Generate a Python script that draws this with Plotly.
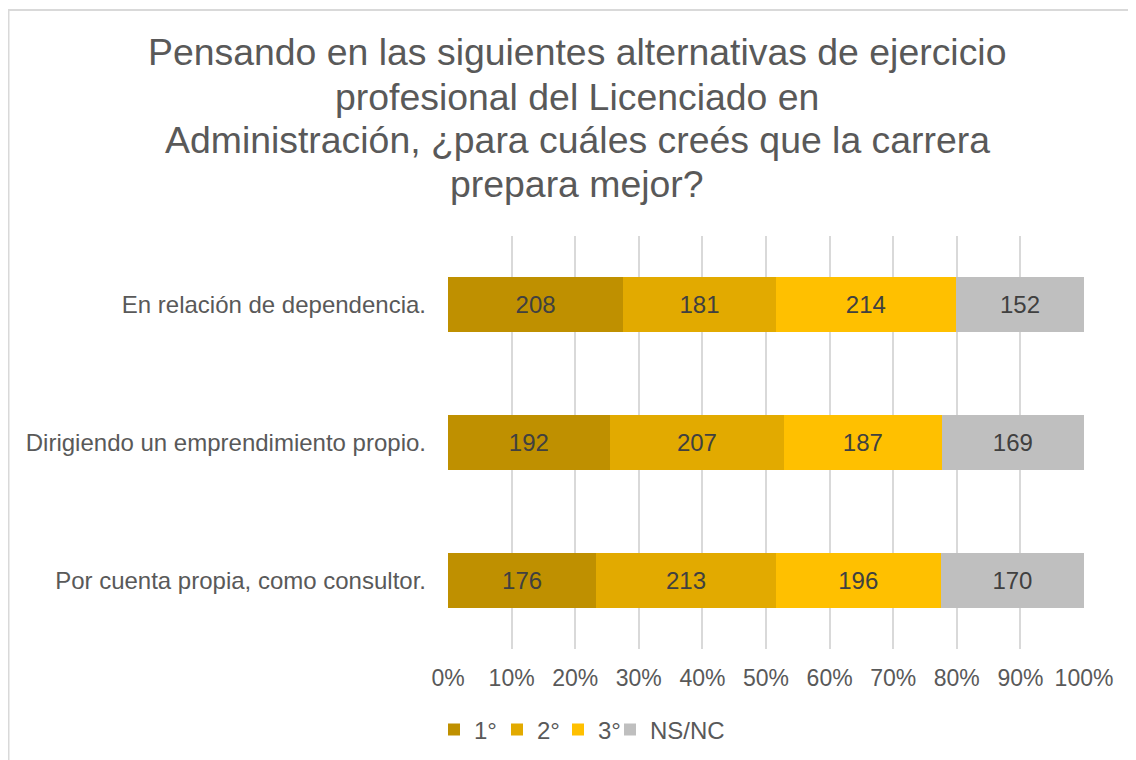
import plotly.graph_objects as go

categories = ["En relación de dependencia.",
              "Dirigiendo un emprendimiento propio.",
              "Por cuenta propia, como consultor."]
series_names = ["1°", "2°", "3°", "NS/NC"]
values_1 = [208, 192, 176]
values_2 = [181, 207, 213]
values_3 = [214, 187, 196]
values_ns = [152, 169, 170]
colors = ["#BF9000", "#E2AA00", "#FFC000", "#BFBFBF"]
x_ticks = [0, 10, 20, 30, 40, 50, 60, 70, 80, 90, 100]
x_tick_labels = [f"{v}%" for v in x_ticks]

title_lines = ["Pensando en las siguientes alternativas de ejercicio",
               "profesional del Licenciado en",
               "Administración, ¿para cuáles creés que la carrera",
               "prepara mejor?"]

FONT = "Liberation Sans, Arial"
# figure is placed at (8, 8) in the page
W, H = 1128, 752
L, R, T, B = 440, 52, 228, 111

legend_ids = ["legend", "legend2", "legend3", "legend4"]
# left edge of each legend box (figure px)
legend_left = [426, 489, 550, 602]

fig = go.Figure()
for name, vals, col, lid in zip(series_names, [values_1, values_2, values_3, values_ns],
                                colors, legend_ids):
    fig.add_trace(go.Bar(
        y=categories, x=vals, name=name, orientation="h",
        marker=dict(color=col, line=dict(width=0)),
        text=[str(v) for v in vals], textposition="inside",
        insidetextanchor="middle",
        textfont=dict(family=FONT, size=24, color="#404040"),
        hoverinfo="skip", legend=lid, showlegend=True,
    ))

plot_h = H - T - B
plot_w = W - L - R
def px_to_paper_x(px):
    return (px - L) / plot_w
def px_to_paper_y(py):
    return (H - B - py) / plot_h

title_y = [44, 89, 132, 176]
annotations = []
for line, ty in zip(title_lines, title_y):
    annotations.append(dict(
        text=line, xref="paper", yref="paper",
        x=px_to_paper_x(569), y=px_to_paper_y(ty),
        xanchor="center", yanchor="middle", showarrow=False,
        font=dict(family=FONT, size=37.4, color="#595959")))

legend_layout = {}
for lid, lx in zip(legend_ids, legend_left):
    legend_layout[lid] = dict(
        orientation="h", xref="container", yref="container",
        x=lx / W, xanchor="left", y=1 - 722 / H, yanchor="middle",
        font=dict(family=FONT, size=24, color="#595959"),
        itemclick=False, itemdoubleclick=False, bgcolor="rgba(0,0,0,0)")

fig.update_layout(
    width=W, height=H,
    margin=dict(l=L, r=R, t=T, b=B, pad=0),
    barmode="stack", barnorm="percent", bargap=0.6,
    paper_bgcolor="white", plot_bgcolor="white",
    font=dict(family=FONT, color="#595959"),
    showlegend=True,
    annotations=annotations,
    xaxis=dict(range=[0, 100], tickvals=x_ticks, ticktext=x_tick_labels,
               showgrid=True, gridcolor="#D9D9D9", gridwidth=2,
               zeroline=False, showline=False, ticks="",
               ticklabelstandoff=13,
               tickfont=dict(size=23, color="#595959")),
    yaxis=dict(autorange="reversed", showgrid=False, zeroline=False,
               showline=False, ticks="", ticklabelstandoff=21,
               tickfont=dict(size=24, color="#595959")),
    uniformtext=dict(mode="show", minsize=10),
    shapes=[dict(type="rect", xref="paper", yref="paper",
                 x0=px_to_paper_x(0.5), x1=px_to_paper_x(1300),
                 y0=px_to_paper_y(900), y1=px_to_paper_y(2),
                 line=dict(color="#D9D9D9", width=2), layer="below")],
    **legend_layout,
)

fig.write_html("out.html")
